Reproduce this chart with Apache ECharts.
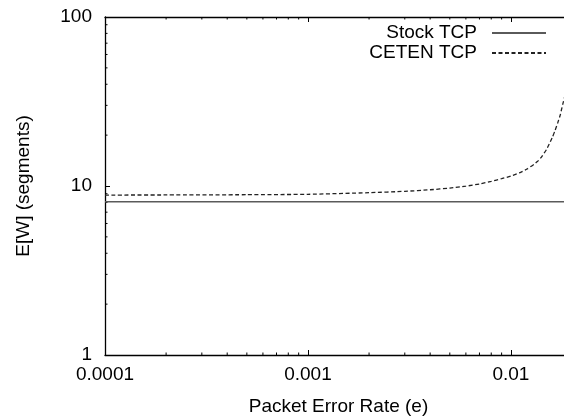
<!DOCTYPE html>
<html>
<head>
<meta charset="utf-8">
<script src="https://cdn.jsdelivr.net/npm/echarts@6/dist/echarts.min.js"></script>
<style>
  html, body { margin: 0; padding: 0; background: #fff; }
  #chart { width: 564px; height: 417px; }
</style>
</head>
<body>
<div id="chart"></div>
<script>
// Expected congestion window vs. packet error rate
const stockRate = [0.0001, 0.02];
const stockWindow = [8.07, 8.07];

const cetenRate = [0.0001, 0.0002, 0.0005, 0.001, 0.002, 0.003, 0.004, 0.005, 0.006, 0.007,
  0.008, 0.009, 0.010, 0.011, 0.012, 0.013, 0.0135, 0.014, 0.015, 0.016, 0.0165, 0.017,
  0.0175, 0.018, 0.0185];
const cetenWindow = [8.84, 8.85, 8.88, 8.93, 9.13, 9.3, 9.5, 9.72, 9.98, 10.28,
  10.65, 11.05, 11.45, 11.95, 12.6, 13.45, 13.95, 14.6, 16.5, 19.4, 21.3, 23.6,
  26.3, 30.4, 34.5];

const xTickValues = [0.0001, 0.001, 0.01];
const xTickLabels = ['0.0001', '0.001', '0.01'];
const yTickValues = [1, 10, 100];
const yTickLabels = ['1', '10', '100'];

const xMinorTicks = [0.0002, 0.0003, 0.0004, 0.0005, 0.0006, 0.0007, 0.0008, 0.0009,
  0.002, 0.003, 0.004, 0.005, 0.006, 0.007, 0.008, 0.009, 0.02];
const yMinorTicks = [2, 3, 4, 5, 6, 7, 8, 9, 20, 30, 40, 50, 60, 70, 80, 90];

const FONT = '"Liberation Sans", Arial, Helvetica, sans-serif';
const FS = 19;

function labelFor(values, labels) {
  return function (v) {
    for (let i = 0; i < values.length; i++) {
      if (Math.abs(Math.log10(v) - Math.log10(values[i])) < 1e-6) return labels[i];
    }
    return '';
  };
}

const axisLineStyle = { color: '#000', width: 1.3 };
const tickStyle = { color: '#000', width: 1 };

const chart = echarts.init(document.getElementById('chart'), null, { renderer: 'canvas' });

// short inward minor ticks, placed through the axes' own scales
function xMinorRender(params, api) {
  const x = api.coord([api.value(0), 1])[0];
  const rect = params.coordSys;
  const yb = rect.y + rect.height, yt = rect.y, len = 2.5;
  const style = { stroke: '#000', lineWidth: 1 };
  return { type: 'group', children: [
    { type: 'line', shape: { x1: x, y1: yb, x2: x, y2: yb - len }, style },
    { type: 'line', shape: { x1: x, y1: yt, x2: x, y2: yt + len }, style }
  ]};
}
function yMinorRender(params, api) {
  const y = api.coord([0.0001, api.value(1)])[1];
  const rect = params.coordSys;
  const xl = rect.x, xr = rect.x + rect.width, len = 2.5;
  const style = { stroke: '#000', lineWidth: 1 };
  return { type: 'group', children: [
    { type: 'line', shape: { x1: xl, y1: y, x2: xl + len, y2: y }, style },
    { type: 'line', shape: { x1: xr, y1: y, x2: xr - len, y2: y }, style }
  ]};
}

const option = {
  backgroundColor: '#fff',
  animation: false,
  textStyle: { fontFamily: FONT },
  grid: { left: 105, right: -8, top: 17, bottom: 62, containLabel: false, outerBoundsMode: 'none' },
  legend: {
    orient: 'vertical',
    align: 'right',
    right: 12,
    top: 18,
    itemWidth: 54,
    itemHeight: 10,
    itemGap: 0,
    itemStyle: { opacity: 0 },
    textStyle: { fontFamily: FONT, fontSize: FS, color: '#000', lineHeight: 20, padding: [0, 10, 0, 0] },
    data: ['Stock TCP', 'CETEN TCP']
  },
  xAxis: [
    {
      type: 'log', logBase: 10, min: 0.0001, max: 0.02,
      name: 'Packet Error Rate (e)', nameLocation: 'middle', nameGap: 42,
      nameTextStyle: { fontFamily: FONT, fontSize: FS, color: '#000' },
      axisLine: { lineStyle: axisLineStyle },
      axisTick: { inside: true, length: 5, lineStyle: tickStyle },
      axisLabel: { fontFamily: FONT, fontSize: FS, color: '#000', margin: 10,
        formatter: labelFor(xTickValues, xTickLabels), showMaxLabel: false },
      splitLine: { show: false }
    },
    {
      type: 'log', logBase: 10, min: 0.0001, max: 0.02, position: 'top',
      axisLine: { lineStyle: axisLineStyle },
      axisTick: { inside: true, length: 5, lineStyle: tickStyle },
      axisLabel: { show: false },
      splitLine: { show: false }
    }
  ],
  yAxis: [
    {
      type: 'log', logBase: 10, min: 1, max: 100,
      name: 'E[W] (segments)', nameLocation: 'middle', nameGap: 72,
      nameTextStyle: { fontFamily: FONT, fontSize: FS, color: '#000' },
      axisLine: { lineStyle: axisLineStyle },
      axisTick: { inside: true, length: 5, lineStyle: tickStyle },
      axisLabel: { fontFamily: FONT, fontSize: FS, color: '#000', margin: 13,
        formatter: labelFor(yTickValues, yTickLabels) },
      splitLine: { show: false }
    },
    {
      type: 'log', logBase: 10, min: 1, max: 100, position: 'right',
      axisLine: { lineStyle: axisLineStyle },
      axisTick: { inside: true, length: 5, lineStyle: tickStyle },
      axisLabel: { show: false },
      splitLine: { show: false }
    }
  ],
  series: [
    {
      name: 'Stock TCP', type: 'line', symbol: 'none', silent: true,
      data: stockRate.map((e, i) => [e, stockWindow[i]]),
      lineStyle: { color: '#5a5a5a', width: 1.6, type: 'solid' },
      itemStyle: { color: '#5a5a5a' }
    },
    {
      name: 'CETEN TCP', type: 'line', symbol: 'none', silent: true, smooth: 0.2,
      data: cetenRate.map((e, i) => [e, cetenWindow[i]]),
      lineStyle: { color: '#222', width: 1.3, type: [4, 2.5] },
      itemStyle: { color: '#222' }
    },
    {
      type: 'custom', silent: true, renderItem: xMinorRender, clip: false,
      data: xMinorTicks.map(v => [v, 1])
    },
    {
      type: 'custom', silent: true, renderItem: yMinorRender, clip: false,
      data: yMinorTicks.map(v => [0.0001, v])
    }
  ]
};

chart.setOption(option);
</script>
</body>
</html>
